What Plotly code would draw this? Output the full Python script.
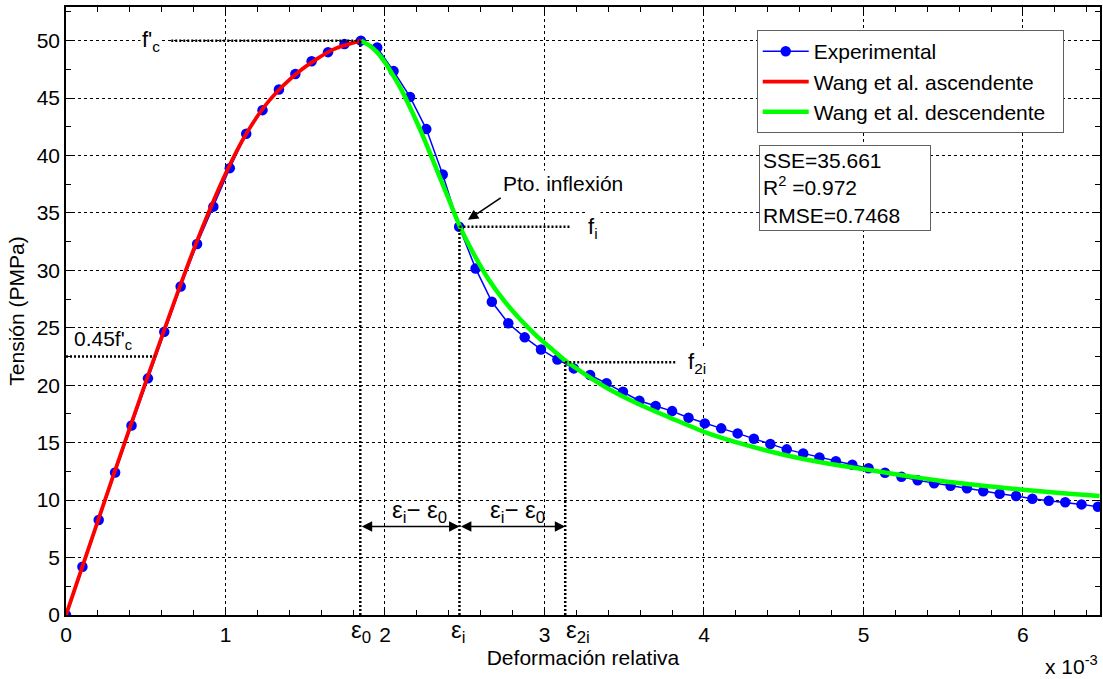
import plotly.graph_objects as go

# ---------------- data (strain in units of 1e-3, stress in MPa) ----------------
exp_x = [0.000, 0.103, 0.205, 0.308, 0.411, 0.514, 0.616, 0.719, 0.822, 0.924,
         1.027, 1.130, 1.232, 1.335, 1.438, 1.540, 1.643, 1.746, 1.849, 1.951,
         2.054, 2.157, 2.259, 2.362, 2.465, 2.568, 2.670, 2.773, 2.876, 2.978,
         3.081, 3.184, 3.286, 3.389, 3.492, 3.595, 3.697, 3.800, 3.903, 4.005,
         4.108, 4.211, 4.313, 4.416, 4.519, 4.622, 4.724, 4.827, 4.930, 5.032,
         5.135, 5.238, 5.340, 5.443, 5.546, 5.649, 5.751, 5.854, 5.957, 6.059,
         6.162, 6.265, 6.367, 6.470]
exp_y = [0.0, 4.2, 8.27, 12.4, 16.5, 20.6, 24.65, 28.6, 32.3, 35.55,
         38.9, 41.9, 43.95, 45.75, 47.1, 48.2, 49.0, 49.7, 50.0, 49.4,
         47.35, 45.1, 42.3, 38.35, 33.8, 30.17, 27.27, 25.4, 24.17, 23.12,
         22.25, 21.47, 20.89, 20.17, 19.43, 18.65, 18.19, 17.75, 17.17, 16.68,
         16.25, 15.81, 15.34, 14.88, 14.42, 14.07, 13.72, 13.38, 13.08, 12.77,
         12.38, 12.04, 11.72, 11.46, 11.25, 11.03, 10.77, 10.56, 10.36, 10.12,
         9.95, 9.81, 9.63, 9.43]

asc_x = [0.0, 0.2, 0.4, 0.6, 0.8, 1.0, 1.13, 1.275, 1.46, 1.67, 1.85]
asc_y = [0.0, 8.2, 16.3, 24.2, 31.8, 38.4, 41.9, 44.8, 47.3, 49.2, 50.0]

desc_x = [1.85, 1.9, 1.95, 2.0, 2.05, 2.1, 2.15, 2.2, 2.25, 2.3, 2.35, 2.4, 2.467,
          2.55, 2.65, 2.75, 2.85, 2.95, 3.05, 3.13, 3.25, 3.4, 3.6, 3.8, 4.0,
          4.25, 4.5, 4.75, 5.0, 5.25, 5.5, 5.75, 6.0, 6.25, 6.48]
desc_y = [50.0, 49.6, 49.0, 48.1, 47.0, 45.8, 44.4, 42.9, 41.3, 39.6, 37.9, 36.2, 33.9,
          31.6, 29.2, 27.3, 25.7, 24.3, 23.1, 22.15, 21.0, 19.7, 18.3, 17.1, 15.95,
          14.85, 13.95, 13.25, 12.7, 12.15, 11.65, 11.25, 10.9, 10.6, 10.35]

x_ticks = [0, 1, 2, 3, 4, 5, 6]
x_ticktext = ["0", "1", "2", "3", "4", "5", "6"]
y_ticks = [0, 5, 10, 15, 20, 25, 30, 35, 40, 45, 50]

# characteristic points
eps0, fc = 1.845, 50.0
epsi, fi = 2.467, 33.8
eps2i, f2i = 3.13, 22.0
f045 = 22.5
eps045 = 0.556
arrow_y = 7.7

FONT = "Liberation Sans, Arial, Helvetica, sans-serif"
DOT = dict(color="black", width=2.5, dash="2px,2px")

fig = go.Figure()
fig.add_trace(go.Scatter(x=exp_x, y=exp_y, mode="lines+markers", name="Experimental",
                         line=dict(color="#0000ff", width=1.5),
                         marker=dict(color="#0000ff", size=10.5, symbol="circle")))
fig.add_trace(go.Scatter(x=asc_x, y=asc_y, mode="lines", name="Wang et al. ascendente",
                         line=dict(color="#ff0000", width=3.8, shape="spline", smoothing=0.8)))
fig.add_trace(go.Scatter(x=desc_x, y=desc_y, mode="lines", name="Wang et al. descendente\u00a0\u00a0",
                         line=dict(color="#00ff00", width=4.5, shape="spline", smoothing=0.6)))

# dotted guide lines
shapes = [
    dict(type="line", x0=0.66, x1=eps0, y0=fc, y1=fc),
    dict(type="line", x0=eps0, x1=eps0, y0=0, y1=fc),
    dict(type="line", x0=0, x1=eps045, y0=f045, y1=f045),
    dict(type="line", x0=epsi, x1=epsi, y0=0, y1=fi),
    dict(type="line", x0=epsi, x1=3.16, y0=fi, y1=fi),
    dict(type="line", x0=eps2i, x1=eps2i, y0=0, y1=f2i),
    dict(type="line", x0=eps2i, x1=3.83, y0=f2i, y1=f2i),
]
for s in shapes:
    s.update(xref="x", yref="y", line=DOT, layer="above")
fig.update_layout(shapes=shapes)

TXT = dict(family=FONT, size=21, color="black")
TXT22 = dict(family=FONT, size=22, color="black")
ann = []
# text labels
ann.append(dict(x=0.53, y=fc, text="f'<sub>c</sub>", showarrow=False, font=TXT22,
                bgcolor="white", xanchor="center", yanchor="middle"))
ann.append(dict(x=0.04, y=23.9, text="0.45f'<sub>c</sub>", showarrow=False, font=TXT,
                xanchor="left", yanchor="middle"))
ann.append(dict(x=3.255, y=fi - 0.1, text="f<sub>i</sub>", showarrow=False, font=TXT22,
                bgcolor="white", xanchor="left", yanchor="middle", borderpad=2))
ann.append(dict(x=3.88, y=f2i - 0.1, text="f<sub>2i</sub>", showarrow=False, font=TXT22,
                bgcolor="white", xanchor="left", yanchor="middle", borderpad=2))
ann.append(dict(x=2.73, y=37.6, text="Pto. inflexión", showarrow=False, font=TXT,
                bgcolor="white", xanchor="left", yanchor="middle"))
# inflection arrow
ann.append(dict(x=2.52, y=34.4, ax=2.735, ay=36.4, axref="x", ayref="y", text="",
                showarrow=True, arrowhead=2, arrowsize=1.3, arrowwidth=1.6, arrowcolor="black"))
# double arrows
for xa, xb in [(eps0, epsi), (epsi, eps2i)]:
    ann.append(dict(x=xb, y=arrow_y, ax=xa, ay=arrow_y, axref="x", ayref="y", text="",
                    showarrow=True, arrowhead=2, arrowside="end+start", arrowsize=1.3,
                    arrowwidth=1.6, arrowcolor="black"))
EPS = dict(family=FONT, size=24, color="black")
ann.append(dict(x=2.215, y=9.0, text="ε<sub>i</sub>− ε<sub>0</sub>",
                showarrow=False, font=EPS, xanchor="center", yanchor="middle"))
ann.append(dict(x=2.83, y=9.0, text="ε<sub>i</sub>− ε<sub>0</sub>",
                showarrow=False, font=EPS, xanchor="center", yanchor="middle"))
# epsilon tick labels
for xv, lab, sh in [(eps0, "ε<sub>0</sub>", -11), (epsi, "ε<sub>i</sub>", -10),
                    (eps2i, "ε<sub>2i</sub>", -1)]:
    ann.append(dict(x=xv, y=-0.027, xref="x", yref="paper", text=lab, showarrow=False,
                    font=EPS, xanchor="left", xshift=sh, yanchor="middle"))
# stats box
ann.append(dict(x=0.67, y=0.773, xref="paper", yref="paper", xanchor="left", yanchor="top",
                text="SSE=35.661<br>R<sup>2</sup> =0.972<br>RMSE=0.7468", align="left",
                showarrow=False, font=TXT, bgcolor="white", bordercolor="#606060",
                borderwidth=1, borderpad=3, width=164))
# exponent
ann.append(dict(x=1.0, y=-0.083, xref="paper", yref="paper", xanchor="right", yanchor="middle",
                text="x 10<sup>-3</sup>", showarrow=False, font=TXT))
fig.update_layout(annotations=ann)

axis_common = dict(showline=True, linecolor="black", linewidth=1.5, mirror="allticks",
                   ticks="inside", ticklen=8, tickcolor="black", tickwidth=1.2,
                   showgrid=True, gridcolor="black", gridwidth=1, griddash="3px,3px",
                   zeroline=False, tickfont=dict(family=FONT, size=21, color="black"))

fig.update_xaxes(range=[0, 6.483], tickvals=x_ticks, ticktext=x_ticktext,
                 minor=dict(dtick=0.2, ticks="inside", ticklen=5, tickcolor="black", showgrid=False),
                 title=dict(text="Deformación relativa", font=dict(family=FONT, size=21, color="black"),
                            standoff=4),
                 **axis_common)
fig.update_yaxes(range=[0, 52.93], tickvals=y_ticks,
                 minor=dict(dtick=2.5, ticks="inside", ticklen=5, tickcolor="black", showgrid=False),
                 title=dict(text="Tensión (PMPa)", font=dict(family=FONT, size=21, color="black"),
                            standoff=6),
                 **axis_common)

fig.update_layout(
    width=1103, height=679,
    margin=dict(l=66, r=1, t=7, b=64),
    paper_bgcolor="white", plot_bgcolor="white",
    font=dict(family=FONT, size=21, color="black"),
    legend=dict(x=0.668, y=0.962, xanchor="left", yanchor="top", bgcolor="white",
                bordercolor="#606060", borderwidth=1, font=dict(family=FONT, size=21, color="black"),
                itemwidth=46, tracegroupgap=0),
    showlegend=True,
)

fig.write_html("out.html")
